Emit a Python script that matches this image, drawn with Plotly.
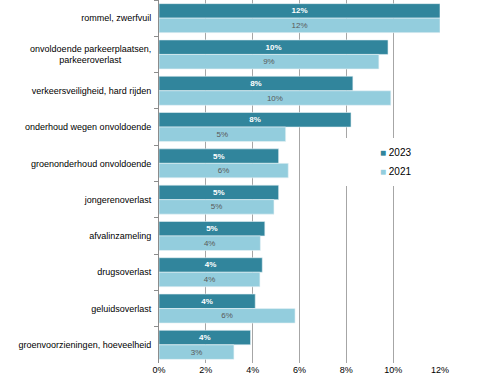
import plotly.graph_objects as go

categories = [
    "rommel, zwerfvuil",
    "onvoldoende parkeerplaatsen,<br>parkeeroverlast" + "\u00a0" * 12 + "\u200b",
    "verkeersveiligheid, hard rijden",
    "onderhoud wegen onvoldoende",
    "groenonderhoud onvoldoende",
    "jongerenoverlast",
    "afvalinzameling",
    "drugsoverlast",
    "geluidsoverlast",
    "groenvoorzieningen, hoeveelheid",
]
values_2023 = [12.0, 9.78, 8.28, 8.2, 5.11, 5.11, 4.52, 4.41, 4.11, 3.91]
values_2021 = [12.0, 9.39, 9.9, 5.41, 5.52, 4.91, 4.33, 4.31, 5.81, 3.2]
x_ticks = [0, 2, 4, 6, 8, 10, 12]
x_ticktext = ["0%", "2%", "4%", "6%", "8%", "10%", "12%"]

C2023 = "#31859C"
C2021 = "#93CDDD"
FONT = "Liberation Sans"

fig = go.Figure()
fig.add_trace(go.Bar(
    y=categories, x=values_2023, orientation="h", name="2023",
    marker=dict(color=C2023, line=dict(color="#E8F2F5", width=0.6)),
    texttemplate="%{x:.0f}%", textposition="inside", insidetextanchor="middle",
    textfont=dict(color="white", size=8, family=FONT, weight="bold"),
    constraintext="none", showlegend=False, hoverinfo="skip",
))
fig.add_trace(go.Bar(
    y=categories, x=values_2021, orientation="h", name="2021",
    marker=dict(color=C2021, line=dict(color="#E8F2F5", width=0.6)),
    texttemplate="%{x:.0f}%", textposition="inside", insidetextanchor="middle",
    textfont=dict(color="#595959", size=8, family=FONT),
    constraintext="none", showlegend=False, hoverinfo="skip",
))
# legend entries (coloured square drawn as part of the legend text)
for nm, col in [("2023", C2023), ("2021", C2021)]:
    fig.add_trace(go.Scatter(
        x=[None], y=[None], mode="markers",
        name=f"<span style='color:{col}'>■</span> {nm}",
        marker=dict(symbol="square", size=1, color="rgba(0,0,0,0)"),
    ))

fig.update_layout(
    width=481, height=386,
    margin=dict(l=159, r=41, t=0, b=23),
    paper_bgcolor="white", plot_bgcolor="white",
    barmode="group", bargap=0.2, bargroupgap=0,
    font=dict(family=FONT, size=9, color="#000000"),
    showlegend=True,
    legend=dict(x=0.644, y=0.555, xanchor="left", yanchor="middle",
                font=dict(size=10, family=FONT, color="#000000"),
                bgcolor="rgba(255,255,255,1)", tracegroupgap=0),
    xaxis=dict(range=[0, 12], tickvals=x_ticks, ticktext=x_ticktext,
               showgrid=True, gridcolor="#A6A6A6", gridwidth=1,
               zeroline=False, showline=False, ticks="", automargin=False,
               tickfont=dict(size=9, family=FONT, color="#000000")),
    yaxis=dict(type="category", categoryorder="array", categoryarray=categories,
               autorange="reversed", automargin=False,
               showline=True, linecolor="#8C8C8C", linewidth=1,
               ticks="outside", tickson="boundaries", ticklen=4, tickcolor="#8C8C8C",
               showgrid=False, ticklabelstandoff=5,
               tickfont=dict(size=9, family=FONT, color="#000000")),
)

fig.write_html("out.html", config={"displayModeBar": False},
               post_script="document.body.style.margin='0';document.body.style.padding='0';")
